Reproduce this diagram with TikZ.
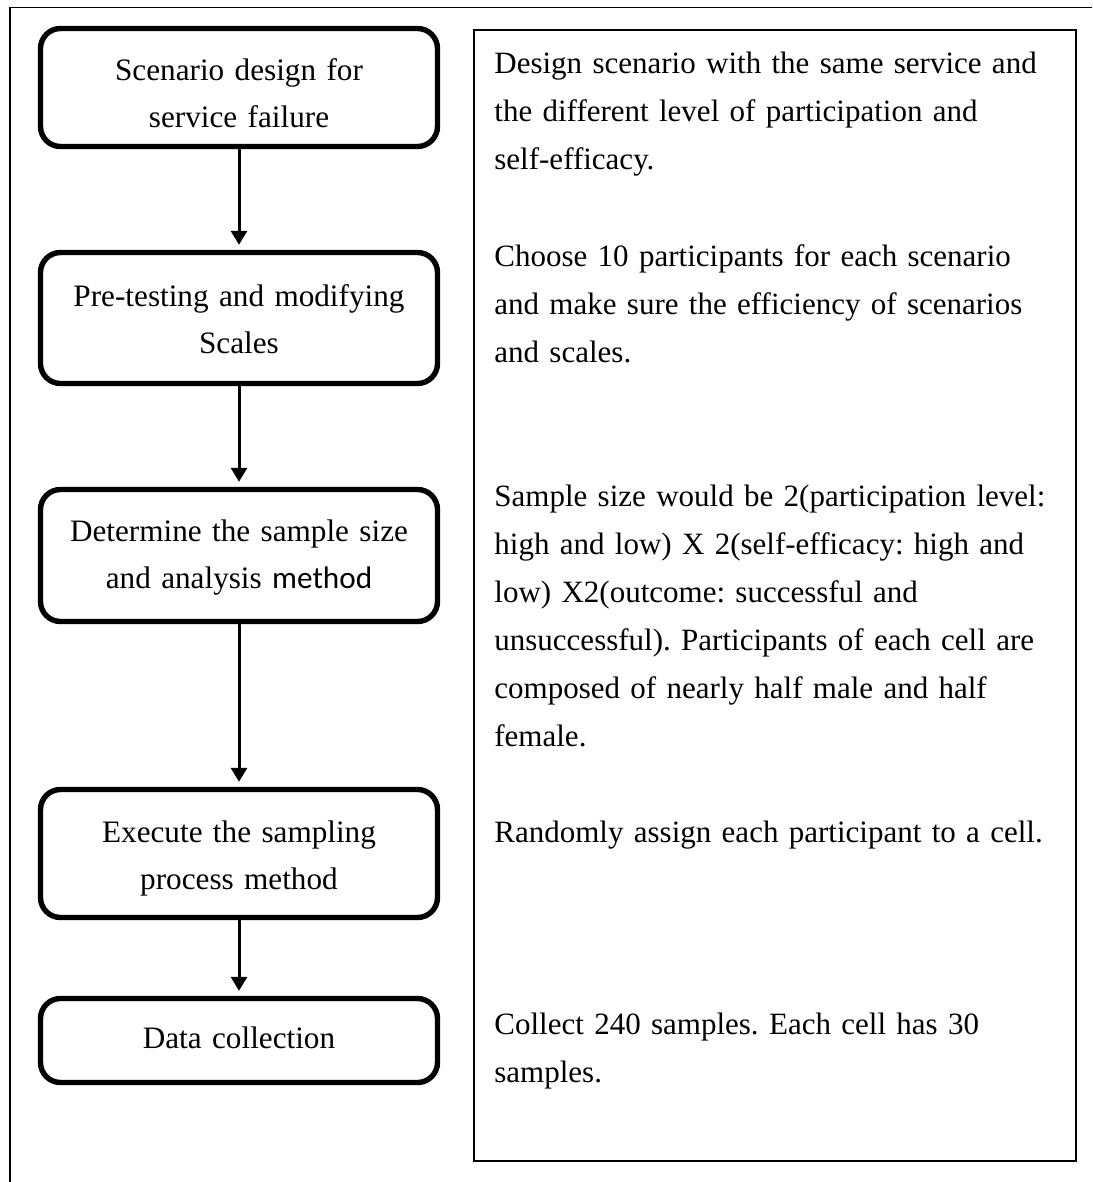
\documentclass[tikz,border=0pt]{standalone}
\usepackage{fontspec}
\setmainfont{Liberation Serif}
\newfontfamily\wordsans{Carlito}
\usetikzlibrary{arrows.meta}

\begin{document}
\begin{tikzpicture}[x=0.5pt,y=-0.5pt,
    stepbox/.style={draw, line width=2.7pt, rounded corners=10pt, inner sep=0pt,
      text width=198.5pt, align=center, anchor=base,
      font=\fontsize{15.6}{23.5}\selectfont\frenchspacing},
    notetext/.style={inner sep=0pt, text width=285pt, align=left, anchor=base west,
      font=\fontsize{15.5}{24}\selectfont\frenchspacing},
    flow/.style={-{Triangle[width=8pt,length=7pt]}, line width=1.5pt, shorten >=2.5pt}]
  \useasboundingbox (0,0) rectangle (1092,1182);
  % outer frame, only left and top edges are on the page
  \draw[line width=0.8pt] (10,1182) -- (10,7.5) -- (1092,7.5);
  \node[draw, line width=0.8pt, inner sep=0pt, anchor=north west,
        minimum width=301pt, minimum height=565.5pt] (notes) at (473,29) {};

  % steps
  \node[stepbox, text height=26.25pt, text depth=32.75pt] (design) at (239,81)
    {Scenario design for\\service failure};
  \node[stepbox, text height=26.75pt, text depth=38.75pt] (pretest) at (239,306)
    {Pre-testing and modifying\\Scales};
  \node[stepbox, text height=25.75pt, text depth=40.25pt] (size) at (239,541)
    {Determine the sample size\\and analysis {\wordsans method}};
  \node[stepbox, text height=26.25pt, text depth=37.75pt] (sampling) at (239,842)
    {Execute the sampling\\process method};
  \node[stepbox, text height=24.75pt, text depth=17.25pt] (collect) at (239,1048)
    {Data collection};

  \draw[flow] (design) -- (pretest);
  \draw[flow] (pretest) -- (size);
  \draw[flow] (size) -- (sampling);
  \draw[flow] (sampling) -- (collect);

  % descriptions
  \node[notetext] (ndesign) at (494,74)
    {Design scenario with the same service and\\the different level of participation and\\self-efficacy.};
  \node[notetext] (npretest) at (494,266)
    {Choose 10 participants for each scenario\\and make sure the efficiency of scenarios\\and scales.};
  \node[notetext] (nsize) at (494,506)
    {Sample size would be 2(participation level:\\high and low) X 2(self-efficacy: high and\\low) X2(outcome: successful and\\unsuccessful). Participants of each cell are\\composed of nearly half male and half\\female.};
  \node[notetext] (nsampling) at (494,842)
    {Randomly assign each participant to a cell.};
  \node[notetext] (ncollect) at (494,1034)
    {Collect 240 samples. Each cell has 30\\samples.};
\end{tikzpicture}
\end{document}
